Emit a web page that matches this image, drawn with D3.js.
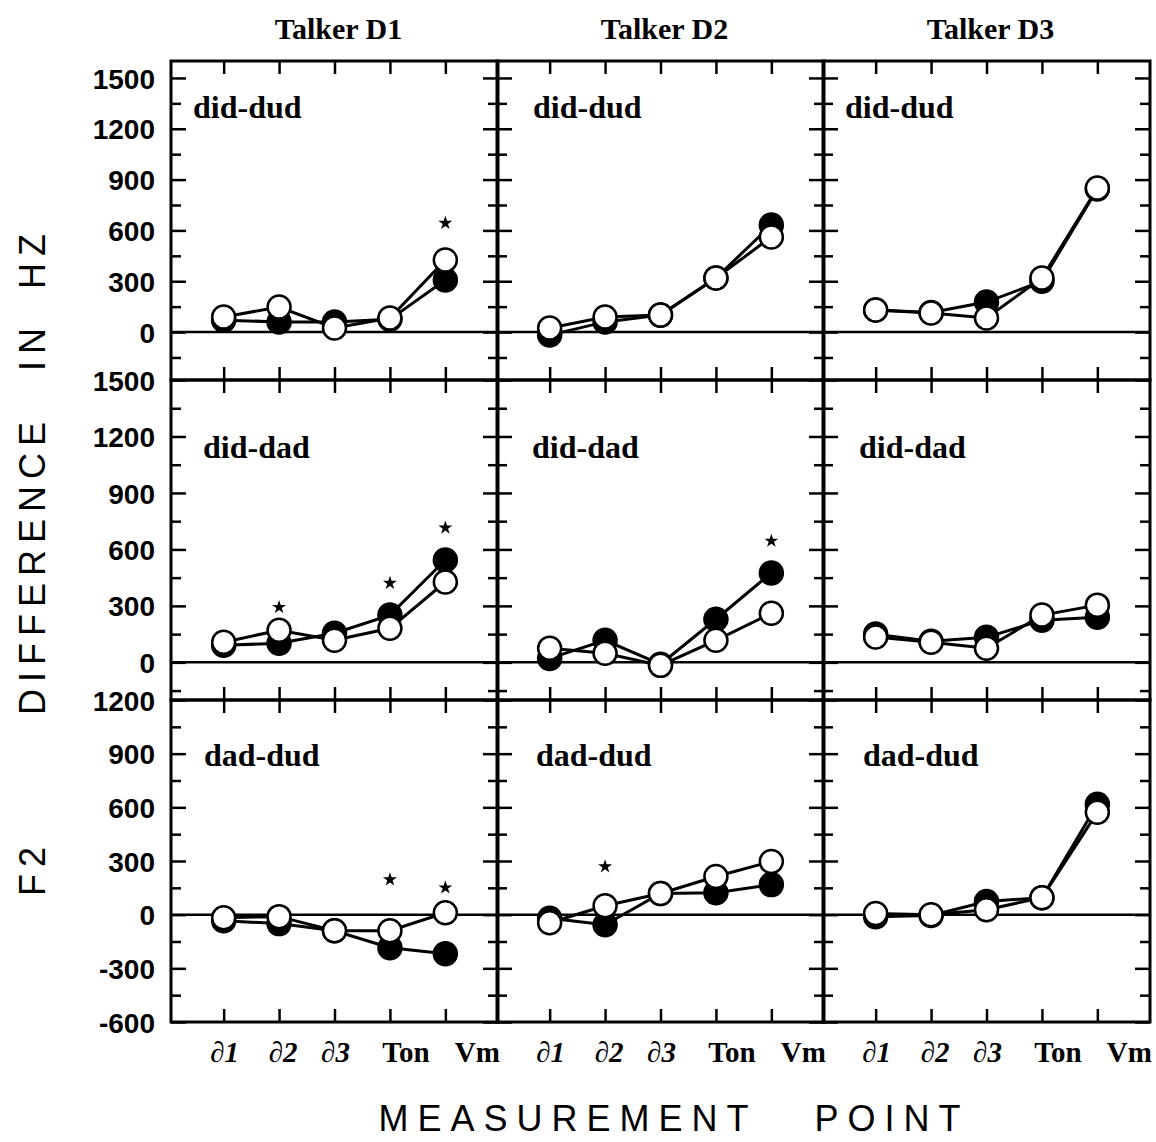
<!DOCTYPE html>
<html>
<head>
<meta charset="utf-8">
<script src="https://cdn.jsdelivr.net/npm/d3@7"></script>
<style>
  body { margin: 0; background: #fff; }
  text { fill: #000; }
</style>
</head>
<body>
<div id="chart"></div>
<script>
// measurement points and panel names
const points = ["∂1", "∂2", "∂3", "Ton", "Vm"];
const talkers = ["Talker D1", "Talker D2", "Talker D3"];
const contrasts = ["did-dud", "did-dad", "dad-dud"];

// F2 differences in Hz, one row per talker (D1, D2, D3)
const filledDidDud = [[70, 60, 60, 75, 307], [-18, 60, 100, 319, 632], [130, 115, 177, 300, 845]];
const openDidDud = [[89, 148, 24, 83, 425], [24, 89, 100, 319, 561], [130, 112, 83, 319, 850]];
const filledDidDad = [[91, 101, 155, 251, 544], [21, 117, -10, 229, 475], [150, 112, 133, 224, 240]];
const openDidDad = [[107, 171, 117, 181, 427], [75, 48, -16, 117, 261], [135, 107, 75, 251, 304]];
const filledDadDud = [[-34, -50, -90, -185, -219], [-20, -56, 118, 123, 168], [-11, -4, 73, 95, 617]];
const openDadDud = [[-17, -11, -90, -90, 11], [-45, 50, 118, 213, 297], [6, 0, 28, 95, 572]];

// asterisks marking significant differences (height in Hz where the mark sits)
const starsDidDud = [[null, null, null, null, 643], [], []];
const starsDidDad = [[null, 293, null, 421, 715], [null, null, null, null, 645], []];
const starsDadDud = [[null, null, null, 196, 151], [null, 269, null, null, null], []];

// y extent and labelled ticks for each row
const yDomains = [[-283, 1600], [-200, 1500], [-600, 1200]];
const yTickLabels = [
  [0, 300, 600, 900, 1200, 1500],
  [0, 300, 600, 900, 1200, 1500],
  [-600, -300, 0, 300, 600, 900, 1200]
];

const filled = [filledDidDud, filledDidDad, filledDadDud];
const open = [openDidDud, openDidDad, openDadDud];
const stars = [starsDidDud, starsDidDad, starsDadDud];

// layout
const width = 1156, height = 1142;
const colLeft = [171, 497, 823];
const colW = 327;
const rowTop = [61, 380, 700];
const rowBottom = [380, 700, 1022];
const labelDx = [[22, 36, 22], [32, 35, 36], [33, 39, 40]];
const labelDy = [57, 78, 66];
const tickShift = [1, 4, 1, 16, 32]; // x labels sit a bit right of their ticks

const serif = "'Liberation Serif', 'Times New Roman', serif";
const sans = "'Liberation Sans', Arial, Helvetica, sans-serif";

const svg = d3
  .select("#chart")
  .append("svg")
  .attr("width", width)
  .attr("height", height);

function styleTicks(sel) {
  sel.select(".domain").remove();
  sel.selectAll(".tick line").attr("stroke", "#000").attr("stroke-width", 2.5);
  sel.selectAll(".tick text").remove();
}

for (let r = 0; r < 3; r++) {
  for (let c = 0; c < 3; c++) {
    const W = colW, H = rowBottom[r] - rowTop[r];
    const g = svg.append("g").attr("transform", `translate(${colLeft[c]},${rowTop[r]})`);

    const x = d3.scalePoint().domain(points).range([0, W]).padding(0.95);
    const y = d3.scaleLinear().domain(yDomains[r]).range([H, 0]);

    const [d0, d1] = yDomains[r];
    const majors = d3.range(Math.ceil(d0 / 300) * 300, d1 + 1, 300);
    const minors = d3.range(Math.ceil((d0 - 150) / 300) * 300 + 150, d1, 300).filter((v) => v > d0);

    // ticks on all four sides, pointing inward
    g.append("g").call(d3.axisLeft(y).tickValues(majors).tickSize(-15)).call(styleTicks);
    g.append("g").call(d3.axisLeft(y).tickValues(minors).tickSize(-10)).call(styleTicks);
    g.append("g").attr("transform", `translate(${W},0)`)
      .call(d3.axisRight(y).tickValues(majors).tickSize(-15)).call(styleTicks);
    g.append("g").attr("transform", `translate(${W},0)`)
      .call(d3.axisRight(y).tickValues(minors).tickSize(-10)).call(styleTicks);
    g.append("g").call(d3.axisTop(x).tickSize(-13)).call(styleTicks);
    g.append("g").attr("transform", `translate(0,${H})`)
      .call(d3.axisBottom(x).tickSize(-13)).call(styleTicks);

    // zero line and frame
    g.append("line")
      .attr("x1", 0).attr("x2", W)
      .attr("y1", y(0)).attr("y2", y(0))
      .attr("stroke", "#000").attr("stroke-width", 2.5);
    g.append("rect")
      .attr("width", W).attr("height", H)
      .attr("fill", "none").attr("stroke", "#000").attr("stroke-width", 3);

    // y labels on the left column only
    if (c === 0) {
      const ax = g.append("g")
        .call(d3.axisLeft(y).tickValues(yTickLabels[r]).tickSize(0).tickPadding(16)
          .tickFormat((d) => String(d)));
      ax.select(".domain").remove();
      ax.selectAll("text")
        .attr("font-family", sans)
        .attr("font-size", 28)
        .attr("font-weight", "bold")
        .attr("dy", "0.36em");
    }

    // x labels on the bottom row only
    if (r === 2) {
      g.selectAll(".xlab")
        .data(points)
        .enter()
        .append("text")
        .attr("x", (d, i) => x(d) + tickShift[i])
        .attr("y", H + 40)
        .attr("text-anchor", "middle")
        .attr("font-family", serif)
        .attr("font-size", 29)
        .attr("font-weight", "bold")
        .attr("font-style", (d) => (d.startsWith("∂") ? "italic" : "normal"))
        .text((d) => d);
    }

    // contrast label
    g.append("text")
      .attr("x", labelDx[r][c])
      .attr("y", labelDy[r])
      .attr("font-family", serif)
      .attr("font-size", 32)
      .attr("font-weight", "bold")
      .text(contrasts[r]);

    const line = d3.line()
      .x((d, i) => x(points[i]))
      .y((d) => y(d));

    // filled series first, open circles drawn over them
    [["#000", filled[r][c]], ["#fff", open[r][c]]].forEach(([fill, vals]) => {
      g.append("path")
        .datum(vals)
        .attr("fill", "none")
        .attr("stroke", "#000")
        .attr("stroke-width", 3)
        .attr("d", line);
      g.selectAll(null)
        .data(vals)
        .enter()
        .append("circle")
        .attr("cx", (d, i) => x(points[i]))
        .attr("cy", (d) => y(d))
        .attr("r", 11.5)
        .attr("fill", fill)
        .attr("stroke", "#000")
        .attr("stroke-width", 2.5);
    });

    // asterisks
    const star = d3.symbol(d3.symbolStar, 60);
    stars[r][c].forEach((v, i) => {
      if (v == null) return;
      g.append("path")
        .attr("d", star())
        .attr("transform", `translate(${x(points[i])},${y(v)})`)
        .attr("fill", "#000");
    });
  }
}

// column titles
talkers.forEach((t, c) => {
  svg.append("text")
    .attr("x", colLeft[c] + colW / 2 + 4)
    .attr("y", 39)
    .attr("text-anchor", "middle")
    .attr("font-family", serif)
    .attr("font-size", 30)
    .attr("font-weight", "bold")
    .text(t);
});

// y axis title, word by word from the bottom up
const yWords = [["F2", 868], ["DIFFERENCE", 565], ["IN", 346], ["HZ", 258]];
yWords.forEach(([w, cy]) => {
  svg.append("text")
    .attr("transform", `translate(45,${cy}) rotate(-90)`)
    .attr("text-anchor", "middle")
    .attr("font-family", sans)
    .attr("font-size", 36)
    .attr("letter-spacing", 7)
    .text(w);
});

// x axis title
const xWords = [["MEASUREMENT", 568], ["POINT", 892]];
xWords.forEach(([w, cx]) => {
  svg.append("text")
    .attr("x", cx)
    .attr("y", 1131)
    .attr("text-anchor", "middle")
    .attr("font-family", sans)
    .attr("font-size", 36)
    .attr("letter-spacing", 9)
    .text(w);
});
</script>
</body>
</html>
